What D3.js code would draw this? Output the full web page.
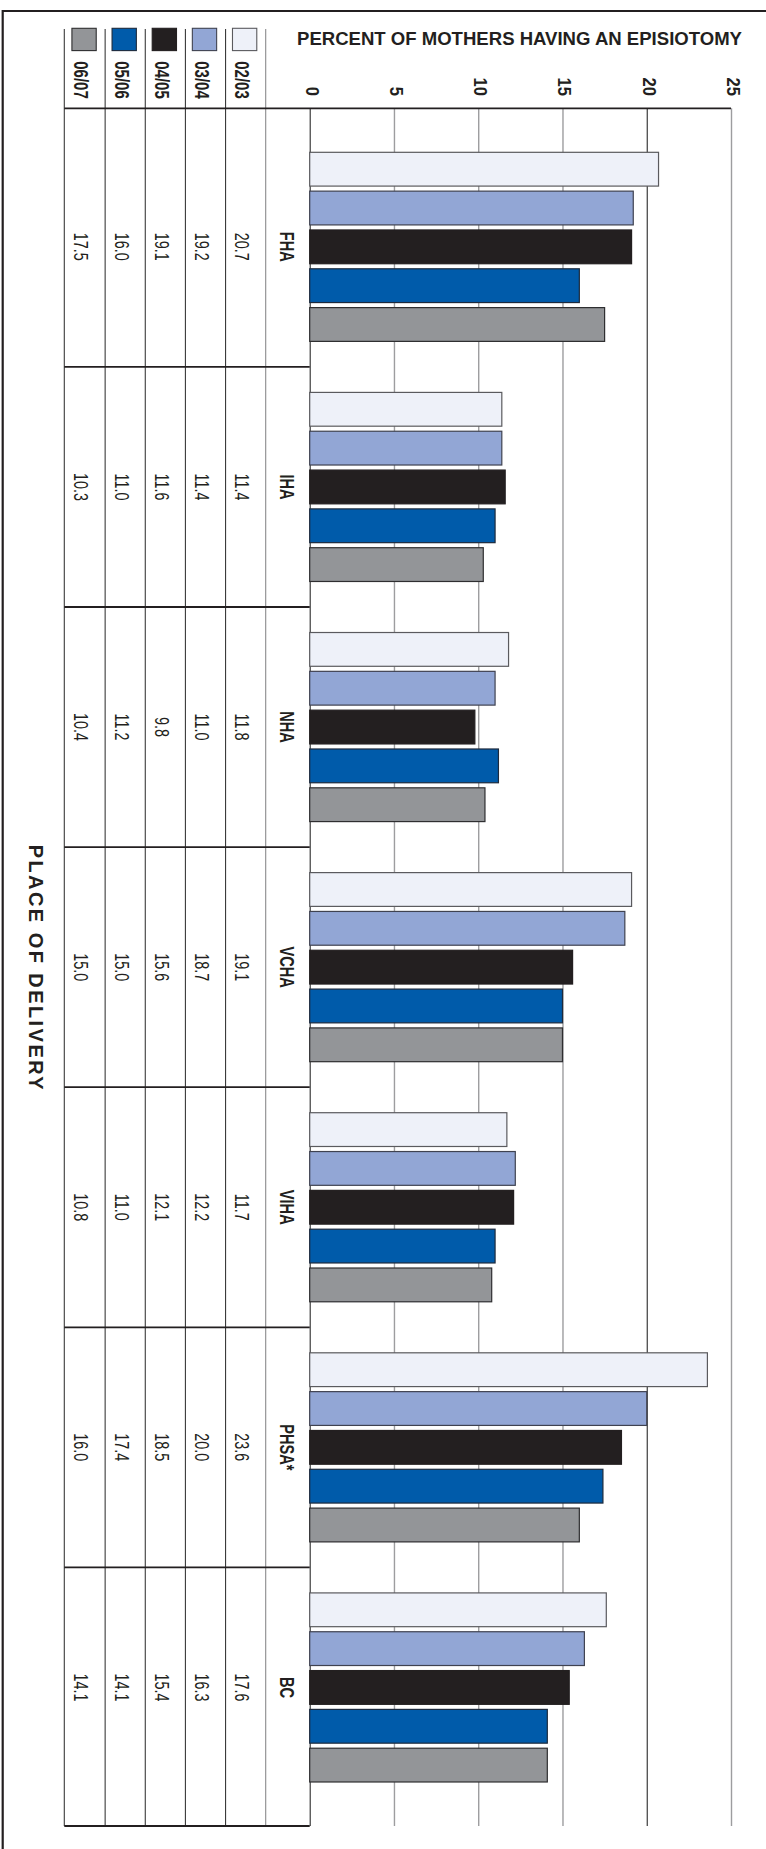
<!DOCTYPE html>
<html>
<head>
<meta charset="utf-8">
<script src="https://cdn.jsdelivr.net/npm/d3@7"></script>
<style>
  html, body { margin: 0; padding: 0; background: #fff; }
  svg { display: block; }
  text { font-family: "Liberation Sans", Arial, Helvetica, sans-serif; fill: #231f20; }
</style>
</head>
<body>
<svg id="chart" width="766" height="1849"></svg>
<script>
// Episiotomy rates by health authority, five fiscal years
const categories = ["FHA", "IHA", "NHA", "VCHA", "VIHA", "PHSA*", "BC"];
const seriesNames = ["02/03", "03/04", "04/05", "05/06", "06/07"];
const v0203 = [20.7, 11.4, 11.8, 19.1, 11.7, 23.6, 17.6];
const v0304 = [19.2, 11.4, 11.0, 18.7, 12.2, 20.0, 16.3];
const v0405 = [19.1, 11.6, 9.8, 15.6, 12.1, 18.5, 15.4];
const v0506 = [16.0, 11.0, 11.2, 15.0, 11.0, 17.4, 14.1];
const v0607 = [17.5, 10.3, 10.4, 15.0, 10.8, 16.0, 14.1];
const seriesColors = ["#eef1f9", "#92a6d5", "#231f20", "#005baa", "#939598"];
const seriesStroke = ["#5a5a5e", "#3f4250", "#231f20", "#1d2a3c", "#2e2e30"];
const tickValues = [0, 5, 10, 15, 20, 25];
const title = "PERCENT OF MOTHERS HAVING AN EPISIOTOMY";
const groupTitle = "PLACE OF DELIVERY";

const values = [v0203, v0304, v0405, v0506, v0607];
const rows = categories.map((c, i) => ({
  cat: c,
  vals: seriesNames.map((s, j) => ({ series: s, idx: j, value: values[j][i] }))
}));

const svg = d3.select("#chart");
const dark = "#231f20";

// layout
const plotTop = 108.3, plotBottom = 1826;
const tableLeft = 64.3, catLeft = 265.7, zeroX = 309.7, maxX = 731;
const colTop = 29;

const x = d3.scaleLinear().domain([0, 25]).range([zeroX, maxX]);
const y = d3.scaleBand().domain(categories).range([plotTop, plotBottom])
  .paddingInner(0.2125).paddingOuter(0.1833);
const ySub = d3.scaleBand().domain(seriesNames).range([0, y.bandwidth()]).paddingInner(0.13);
const tableOrder = seriesNames.slice().reverse();
const colX = d3.scaleBand().domain(tableOrder).range([65, catLeft]);

// outer frame (top and left edges)
svg.append("path")
  .attr("d", `M2.7,1849 V11 H766`)
  .attr("fill", "none").attr("stroke", dark).attr("stroke-width", 2.2);

// value axis with full-height grid lines
const axis = d3.axisTop(x).tickValues(tickValues).tickSize(-(plotBottom - plotTop)).tickSizeOuter(0);
const gAxis = svg.append("g").attr("transform", `translate(0,${plotTop})`).call(axis);
gAxis.select(".domain").remove();
gAxis.selectAll(".tick line")
  .attr("stroke", d => (d === 0 || d === 20) ? "#2b2b2b" : "#9d9d9f")
  .attr("stroke-width", d => (d === 0 || d === 20) ? 1.1 : 1.4);
gAxis.selectAll(".tick text")
  .attr("x", null).attr("y", null).attr("dy", null)
  .attr("text-anchor", "end")
  .attr("font-size", 18.5).attr("font-weight", "bold").attr("fill", dark)
  .attr("transform", `translate(2,${96 - plotTop}) rotate(90) scale(0.9,1)`)
  .attr("dy", "0.358em");

// title
svg.append("text")
  .attr("x", 297).attr("y", 45)
  .attr("font-size", 18.5).attr("font-weight", "bold")
  .attr("textLength", 445).attr("lengthAdjust", "spacingAndGlyphs")
  .text(title);

// bars
const groups = svg.append("g").selectAll("g").data(rows).join("g")
  .attr("transform", d => `translate(0,${y(d.cat)})`);
groups.selectAll("rect").data(d => d.vals).join("rect")
  .attr("x", x(0))
  .attr("y", d => ySub(d.series))
  .attr("width", d => x(d.value) - x(0))
  .attr("height", ySub.bandwidth())
  .attr("fill", d => seriesColors[d.idx])
  .attr("stroke", d => seriesStroke[d.idx])
  .attr("stroke-width", 1.2);

// table grid: column rules
const colEdges = [tableLeft].concat(tableOrder.slice(1).map(s => colX(s))).concat([catLeft]);
svg.append("g").selectAll("line").data(colEdges).join("line")
  .attr("x1", d => d).attr("x2", d => d)
  .attr("y1", colTop).attr("y2", plotBottom)
  .attr("stroke", (d, i) => i === colEdges.length - 1 ? "#8a8a8c" : "#3a3a3a")
  .attr("stroke-width", 1.1);

// table grid: header rule and group separators
const gapHalf = (y.step() - y.bandwidth()) / 2;
svg.append("line")
  .attr("x1", tableLeft).attr("x2", maxX).attr("y1", plotTop).attr("y2", plotTop)
  .attr("stroke", dark).attr("stroke-width", 1.8);
const seps = categories.slice(1).map(c => y(c) - gapHalf).concat([plotBottom]);
svg.append("g").selectAll("line").data(seps).join("line")
  .attr("x1", tableLeft).attr("x2", zeroX)
  .attr("y1", d => d).attr("y2", d => d)
  .attr("stroke", dark).attr("stroke-width", 1.8);

// legend swatches and series headers
const colCenter = s => colX(s) + colX.bandwidth() / 2;
svg.append("g").selectAll("rect").data(seriesNames).join("rect")
  .attr("x", s => colCenter(s) - 1 - 12.15)
  .attr("y", 28.3)
  .attr("width", 24.3).attr("height", 22.3)
  .attr("fill", (s, i) => seriesColors[i])
  .attr("stroke", (s, i) => seriesStroke[i])
  .attr("stroke-width", 1.1);

function vtext(sel, cx, cy, size, weight, sx) {
  sel.attr("transform", `translate(${cx},${cy}) rotate(90) scale(${sx},1)`)
    .attr("text-anchor", "middle").attr("dy", "0.358em")
    .attr("font-size", size).attr("font-weight", weight);
}

svg.append("g").selectAll("text").data(seriesNames).join("text")
  .each(function (s) { vtext(d3.select(this), colCenter(s) - 3.5, 80, 20, "bold", 0.75); })
  .text(s => s);

// table values
const cells = [];
rows.forEach(r => r.vals.forEach(v => cells.push({ cat: r.cat, series: v.series, value: v.value })));
svg.append("g").selectAll("text").data(cells).join("text")
  .each(function (d) {
    vtext(d3.select(this), colCenter(d.series) - 3.5, y(d.cat) + y.bandwidth() / 2, 20, "normal", 0.72);
  })
  .text(d => d.value.toFixed(1));

// category labels
svg.append("g").selectAll("text").data(categories).join("text")
  .each(function (c) {
    vtext(d3.select(this), (catLeft + zeroX) / 2 - 1, y(c) + y.bandwidth() / 2, 20, "bold", 0.73);
  })
  .text(c => c);

// group axis title
svg.append("text")
  .attr("transform", `translate(35.8,${(plotTop + plotBottom) / 2}) rotate(90)`)
  .attr("text-anchor", "middle").attr("dy", "0.358em")
  .attr("font-size", 20).attr("font-weight", "bold")
  .attr("textLength", 245).attr("lengthAdjust", "spacing")
  .text(groupTitle);
</script>
</body>
</html>
